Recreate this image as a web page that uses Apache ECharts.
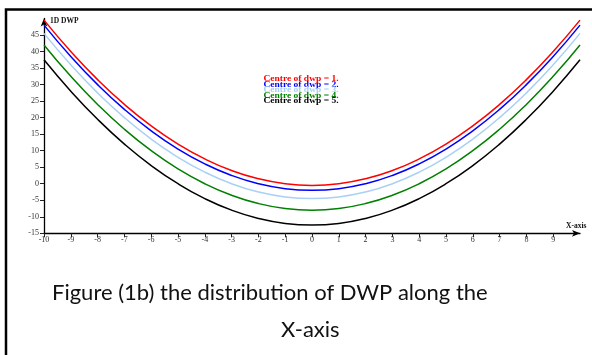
<!DOCTYPE html>
<html><head><meta charset="utf-8">
<script src="https://cdn.jsdelivr.net/npm/echarts@6/dist/echarts.min.js"></script>
<style>html,body{margin:0;padding:0;background:#fff}#c{width:592px;height:355px}</style>
</head><body><div id="c"></div>
<script>
const xValues = [-10,-9,-8,-7,-6,-5,-4,-3,-2,-1,0,1,2,3,4,5,6,7,8,9,10];
const seriesNames = ['Centre of dwp = 1.','Centre of dwp = 2.','Centre of dwp = 3.','Centre of dwp = 4.','Centre of dwp = 5.'];
const dwp1 = [49.5,40,31.5,24,17.5,12,7.5,4,1.5,0,-0.5,0,1.5,4,7.5,12,17.5,24,31.5,40,49.5];
const dwp2 = [48,38.5,30,22.5,16,10.5,6,2.5,0,-1.5,-2,-1.5,0,2.5,6,10.5,16,22.5,30,38.5,48];
const dwp3 = [45.5,36,27.5,20,13.5,8,3.5,0,-2.5,-4,-4.5,-4,-2.5,0,3.5,8,13.5,20,27.5,36,45.5];
const dwp4 = [42,32.5,24,16.5,10,4.5,0,-3.5,-6,-7.5,-8,-7.5,-6,-3.5,0,4.5,10,16.5,24,32.5,42];
const dwp5 = [37.5,28,19.5,12,5.5,0,-4.5,-8,-10.5,-12,-12.5,-12,-10.5,-8,-4.5,0,5.5,12,19.5,28,37.5];
const colors = ['#ff0000','#0000ff','#a9d0f5','#008000','#000000'];
const allData = [dwp1,dwp2,dwp3,dwp4,dwp5];

const chart = echarts.init(document.getElementById('c'), null, {renderer:'canvas'});
const serif = 'Liberation Serif';
const legendTexts = seriesNames.map((n,i)=>({
  type:'text', x:301, y:79.5 + i*5.5, scaleX:1.3,
  style:{text:n, font:'bold 7.3px "Liberation Serif"', fill:colors[i], textAlign:'center', textVerticalAlign:'middle'},
  silent:true
}));
chart.setOption({
  animation:false,
  grid:{left:44,right:12,top:18.5,bottom:121.7,containLabel:false},
  xAxis:{
    type:'value', min:-10, max:10, interval:1,
    name:'X-axis', nameLocation:'end', nameGap:-14,
    nameTextStyle:{fontFamily:serif,fontWeight:'bold',fontSize:7.5,color:'#111',verticalAlign:'bottom',padding:[0,0,3,0]},
    axisLine:{onZero:false,lineStyle:{color:'#000',width:1.3},symbol:['none','arrow'],symbolSize:[5,8]},
    axisTick:{length:4,lineStyle:{color:'#222'}},
    axisLabel:{fontFamily:serif,fontSize:8,color:'#333',margin:3,showMaxLabel:false},
    splitLine:{show:false}
  },
  yAxis:{
    type:'value', min:-15, max:50, interval:5,
    name:'1D DWP', nameLocation:'end', nameGap:-3,
    nameTextStyle:{fontFamily:serif,fontWeight:'bold',fontSize:7.5,color:'#111',align:'left',verticalAlign:'middle',padding:[0,0,0,6]},
    axisLine:{show:true,onZero:false,lineStyle:{color:'#000',width:1.3},symbol:['none','arrow'],symbolSize:[5,8]},
    axisTick:{show:true,length:4,lineStyle:{color:'#222'}},
    axisLabel:{fontFamily:serif,fontSize:8,color:'#333',margin:5,showMaxLabel:false},
    splitLine:{show:false}
  },
  series: allData.map((d,i)=>({
    name:seriesNames[i], type:'line', smooth:true, showSymbol:false,
    data: xValues.map((x,j)=>[x,d[j]]),
    lineStyle:{color:colors[i],width:1.5}, itemStyle:{color:colors[i]}
  })),
  graphic:[
    {type:'rect', shape:{x:6,y:9.5,width:700,height:500}, style:{fill:'none',stroke:'#000',lineWidth:2.5}, silent:true},
    ...legendTexts,
    {type:'text', left:52, top:282, style:{text:'Figure (1b) the distribution of DWP along the',font:'22px Lato',fill:'#111'}},
    {type:'text', left:281, top:319, style:{text:'X-axis',font:'22px Lato',fill:'#111'}}
  ]
});
</script></body></html>
